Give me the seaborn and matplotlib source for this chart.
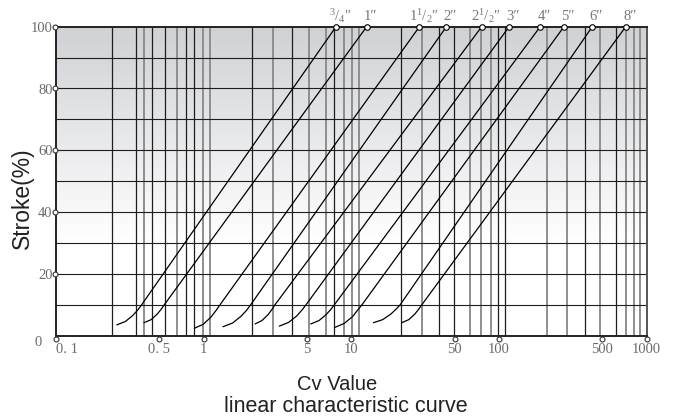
import numpy as np
import pandas as pd
import matplotlib
matplotlib.use('Agg')
import matplotlib.pyplot as plt
import matplotlib.transforms as mtransforms
from matplotlib.colors import LinearSegmentedColormap
from matplotlib.ticker import NullLocator
import seaborn as sns

sns.set_style('white')
plt.rcParams['font.family'] = ['Liberation Serif', 'DejaVu Serif']
plt.rcParams['mathtext.fontset'] = 'custom'
plt.rcParams['mathtext.rm'] = 'Liberation Serif'
plt.rcParams['mathtext.it'] = 'Liberation Serif:italic'

# valve sizes and their label text
sizes = ['3/4"', '1"', '1-1/2"', '2"', '2-1/2"', '3"', '4"', '5"', '6"', '8"']
size_labels = [r'$^{3}/_{4}$″', '1″', r'$1^{1}/_{2}$″', '2″', r'$2^{1}/_{2}$″',
               '3″', '4″', '5″', '6″', '8″']

# stroke (%) vs Cv, one list per size
curve_stroke = [
    [3.5, 4.6, 6.6, 8.4, 10, 100],
    [4.2, 5.2, 7.0, 8.6, 10, 100],
    [2.4, 3.7, 6.0, 8.1, 10, 100],
    [2.9, 4.1, 6.3, 8.2, 10, 100],
    [3.8, 4.9, 6.8, 8.5, 10, 100],
    [3.1, 4.3, 6.4, 8.3, 10, 100],
    [3.8, 4.9, 6.8, 8.5, 10, 100],
    [2.7, 4.0, 6.2, 8.2, 10, 100],
    [4.2, 5.2, 7.0, 8.6, 10, 100],
    [4.2, 5.2, 7.0, 8.6, 10, 100],
]
curve_cv = [
    [0.258, 0.295, 0.332, 0.359, 0.380, 7.87],
    [0.394, 0.441, 0.485, 0.516, 0.541, 12.7],
    [0.864, 0.994, 1.12, 1.21, 1.29, 28.9],
    [1.35, 1.57, 1.79, 1.95, 2.08, 44.0],
    [2.23, 2.48, 2.73, 2.90, 3.04, 76.3],
    [3.25, 3.76, 4.27, 4.63, 4.93, 117],
    [5.31, 6.04, 6.74, 7.26, 7.67, 190],
    [7.75, 8.96, 10.2, 11.0, 11.8, 275],
    [14.1, 16.3, 18.5, 20.1, 21.4, 428],
    [21.9, 24.5, 26.9, 28.6, 30.0, 721],
]

# graph paper
grid_x = [0.238, 0.347, 0.394, 0.449, 0.547, 0.663, 0.756, 0.860, 0.985, 1.10,
          2.11, 2.96, 3.95, 5.17, 6.74, 7.66, 8.92, 10.1, 11.3,
          21.6, 30.0, 39.4, 49.6, 63.6, 75.1, 87.8, 97.9, 109,
          210, 290, 382, 483, 617, 724, 824, 900]
grid_dark = [1, 1, 0, 1, 1, 0, 1, 1, 0, 0,
             1, 0, 1, 0, 0, 1, 0, 0, 0,
             1, 0, 1, 1, 0, 0, 0, 1, 1,
             0, 0, 1, 0, 1, 0, 0, 0]
grid_y = [10, 20, 30, 40, 50, 60, 70, 80, 90]

x_ticks = [0.1, 0.5, 1, 5, 10, 50, 100, 500, 1000]
x_tick_labels = ['0. 1', '0. 5', '1', '5', '10', '50', '100', '500', '1000']
y_ticks = [20, 40, 60, 80, 100]
y_tick_labels = ['20', '40', '60', '80', '100']

rows = []
for name, s_list, cv_list in zip(sizes, curve_stroke, curve_cv):
    for s, c in zip(s_list, cv_list):
        rows.append({'size': name, 'stroke': s, 'cv': c})
df = pd.DataFrame(rows)

W, H = 678, 419
fig = plt.figure(figsize=(W / 100, H / 100), dpi=100)
rect = [56 / W, 83.3 / H, 590.7 / W, 309 / H]

# gradient background
bg = fig.add_axes(rect, zorder=0)
cmap = LinearSegmentedColormap.from_list('bg', ['#ffffff', '#cfd1d5'])
shade = np.clip((np.linspace(0, 1, 300) - 0.3) / 0.7, 0, 1)
bg.imshow(shade[:, None], cmap=cmap, vmin=0, vmax=1, origin='lower',
          extent=(0, 1, 0, 1), aspect='auto', interpolation='bilinear')
bg.set_axis_off()

ax = fig.add_axes(rect, zorder=1)
ax.set_facecolor('none')
ax.set_xscale('log')

for v, d in zip(grid_x, grid_dark):
    if d:
        ax.axvline(v, color='#1e1e1e', lw=0.9, zorder=1)
    else:
        ax.axvline(v, color='#8e8e8e', lw=1.4, zorder=1)
for h in grid_y:
    ax.axhline(h, color='#1e1e1e', lw=0.8, zorder=1)

sns.lineplot(data=df, x='cv', y='stroke', hue='size', hue_order=sizes,
             palette=['black'] * len(sizes), estimator=None, sort=False,
             legend=False, lw=0.9, ax=ax, zorder=2)

ax.set_xlim(0.1, 1000)
ax.set_ylim(0, 100)
ax.xaxis.set_minor_locator(NullLocator())
ax.set_xticks(x_ticks)
ax.set_xticklabels(x_tick_labels)
ax.set_yticks(y_ticks)
ax.set_yticklabels(y_tick_labels)
ax.xaxis.get_majorticklabels()[0].set_ha('left')
ax.tick_params(length=0, labelsize=10.5, labelcolor='#6a6a6a')
ax.tick_params(axis='x', pad=5.5)
ax.tick_params(axis='y', pad=2.5)
ax.set_xlabel('')
ax.set_ylabel('')
ax.annotate('0', (0.1, 0), xytext=(-10, -5), textcoords='offset points',
            ha='right', va='center', fontsize=10.5, color='#6a6a6a',
            annotation_clip=False)

for side in ['left', 'bottom', 'top']:
    ax.spines[side].set_color('#222222')
    ax.spines[side].set_linewidth(1.4)
ax.spines['right'].set_color('#555555')
ax.spines['right'].set_linewidth(1.4)

# tick circles
down = mtransforms.offset_copy(ax.transData, fig=fig, x=0, y=-3, units='dots')
ax.plot(x_ticks, [0] * len(x_ticks), 'o', transform=down, ms=3.5, mfc='white',
        mec='#333333', mew=0.8, clip_on=False, zorder=5)
left = mtransforms.offset_copy(ax.transData, fig=fig, x=-1, y=0, units='dots')
ax.plot([0.1] * len(y_ticks), y_ticks, 'o', transform=left, ms=3.5, mfc='white',
        mec='#333333', mew=0.8, clip_on=False, zorder=5)

# size markers on top
top_cv = [c[-1] for c in curve_cv]
ax.plot(top_cv, [100] * len(top_cv), 'o', ms=4, mfc='white', mec='black',
        mew=0.8, clip_on=False, zorder=5)
for x, lab in zip(top_cv, size_labels):
    ax.annotate(lab, (x, 100), xytext=(3, 4.5), textcoords='offset points',
                ha='center', va='baseline', fontsize=10.5, color='#777777',
                annotation_clip=False)

fig.text(22 / W, 1 - 198 / H, 'Stroke(%)', rotation=90, ha='center', va='center',
         fontsize=16.5, family='Liberation Sans', color='#222222')
fig.text(337 / W, 1 - 390 / H, 'Cv Value', ha='center', va='baseline',
         fontsize=14.5, family='Liberation Sans', color='#222222')
fig.text(346 / W, 1 - 412 / H, 'linear characteristic curve', ha='center',
         va='baseline', fontsize=15.5, family='Liberation Sans', color='#222222')

fig.savefig('out.png', dpi=100)
